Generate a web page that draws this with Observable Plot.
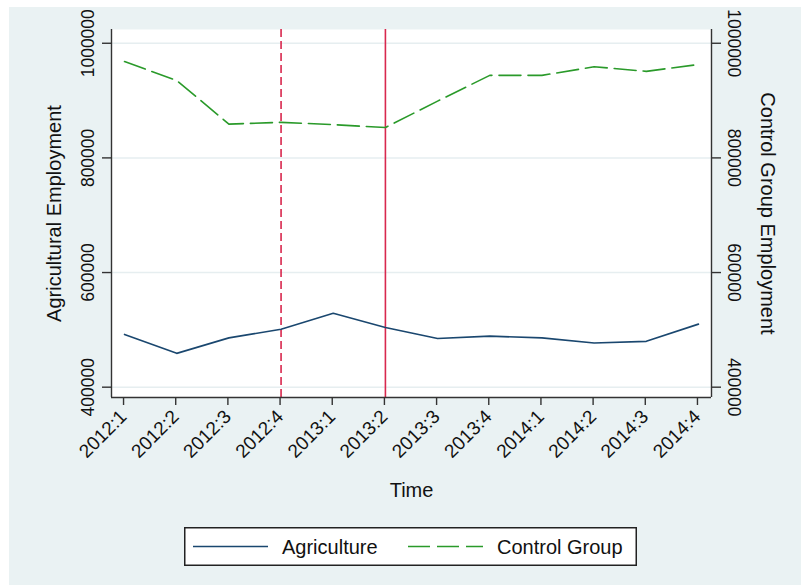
<!DOCTYPE html>
<html><head><meta charset="utf-8">
<script src="https://cdn.jsdelivr.net/npm/d3@7"></script>
<script src="https://cdn.jsdelivr.net/npm/@observablehq/plot@0.6"></script>
<style>
body{margin:0;background:#fff;font-family:"Liberation Sans",Arial,sans-serif;}
#bg{position:absolute;left:9px;top:7px;width:792px;height:578px;background:#eaf2f3;}
#chart{position:absolute;left:0;top:0;}
#legend{position:absolute;left:184px;top:527px;}
</style></head><body>
<div id="bg"></div><div id="chart"></div><div id="legend"></div>
<script>
const periods = ["2012:1","2012:2","2012:3","2012:4","2013:1","2013:2","2013:3","2013:4","2014:1","2014:2","2014:3","2014:4"];
const agriculture = [492000, 459000, 486000, 501000, 529000, 504000, 485000, 489000, 486000, 477000, 480000, 510000];
const controlGroup = [968000, 935000, 859000, 862000, 858000, 853000, 899000, 944000, 944000, 959000, 951000, 963000];
const yTicks = [400000, 600000, 800000, 1000000];
const dashedEvent = ["2012:4"];
const solidEvent = ["2013:2"];
const seriesNames = ["Agriculture", "Control Group"];
const seriesColors = ["#1a476f", "#2a9a2a"];
const seriesDash = [null, "22,7"];
const xDomain = [-0.25, periods.length - 0.75];
const yDomain = [382000, 1024000];

const idx = d3.range(periods.length);
const ink = "#111";

const plot = Plot.plot({
  width: 801, height: 585,
  marginTop: 29, marginLeft: 111, marginRight: 90, marginBottom: 188,
  style: {fontFamily: "'Liberation Sans', Arial, sans-serif", background: "transparent", color: ink, overflow: "visible"},
  x: {type: "linear", domain: xDomain},
  y: {type: "linear", domain: yDomain},
  marks: [
    Plot.frame({fill: "white", stroke: "none"}),
    Plot.gridY(yTicks, {stroke: "#e6eef0", strokeOpacity: 1, strokeWidth: 1.5}),
    Plot.ruleX(dashedEvent.map(p => periods.indexOf(p)), {stroke: "#d8284e", strokeWidth: 1.6, strokeDasharray: "8,4"}),
    Plot.ruleX(solidEvent.map(p => periods.indexOf(p)), {stroke: "#d8284e", strokeWidth: 1.6}),
    Plot.lineY(agriculture, {x: (d, i) => i, y: d => d, stroke: seriesColors[0], strokeWidth: 1.6}),
    Plot.lineY(controlGroup, {x: (d, i) => i, y: d => d, stroke: seriesColors[1], strokeWidth: 1.6, strokeDasharray: seriesDash[1]}),
    Plot.ruleX([xDomain[0], xDomain[1]], {stroke: "#333", strokeWidth: 1.4}),
    Plot.ruleY([yDomain[0]], {stroke: "#333", strokeWidth: 1.4}),
    Plot.axisY(yTicks, {anchor: "left", tickSize: 9, tickPadding: 14, tickRotate: -90, textAnchor: "middle", lineAnchor: "middle", fontSize: 17.5, tickFormat: d3.format("d"), label: null, stroke: "#333", strokeWidth: 1.4, fill: ink}),
    Plot.axisY(yTicks, {anchor: "right", tickSize: 9, tickPadding: 13, tickRotate: 90, textAnchor: "middle", lineAnchor: "middle", fontSize: 17.5, tickFormat: d3.format("d"), label: null, stroke: "#333", strokeWidth: 1.4, fill: ink}),
    Plot.axisX(idx, {anchor: "bottom", tickSize: 8, tickPadding: 8, tickRotate: -45, textAnchor: "end", lineAnchor: "middle", dx: -1, fontSize: 19, tickFormat: i => periods[i], label: null, stroke: "#333", strokeWidth: 1.4, fill: ink}),
    Plot.text(["Time"], {text: d => d, frameAnchor: "bottom", dy: 93, textAnchor: "middle", lineAnchor: "middle", fontSize: 20, fill: ink}),
    Plot.text(["Agricultural Employment"], {text: d => d, frameAnchor: "left", rotate: -90, dx: -57, textAnchor: "middle", lineAnchor: "middle", fontSize: 20, fill: ink}),
    Plot.text(["Control Group Employment"], {text: d => d, frameAnchor: "right", rotate: 90, dx: 56, textAnchor: "middle", lineAnchor: "middle", fontSize: 20, fill: ink})
  ]
});
document.getElementById("chart").appendChild(plot);

// legend
const lg = d3.select("#legend").append("svg").attr("width", 454).attr("height", 40)
  .style("font-family", "'Liberation Sans', Arial, sans-serif");
lg.append("rect").attr("x", 0.75).attr("y", 0.75).attr("width", 451.5).attr("height", 37.5)
  .attr("fill", "white").attr("stroke", "#222").attr("stroke-width", 1.5);
const itemX = [9, 224];
seriesNames.forEach((name, i) => {
  lg.append("line").attr("x1", itemX[i]).attr("x2", itemX[i] + 75).attr("y1", 19.5).attr("y2", 19.5)
    .attr("stroke", seriesColors[i]).attr("stroke-width", 1.6)
    .attr("stroke-dasharray", seriesDash[i]);
  lg.append("text").attr("x", itemX[i] + 89).attr("y", 19.5).attr("dy", "0.35em")
    .attr("font-size", 20).attr("fill", ink).text(name);
});
</script>
</body></html>
